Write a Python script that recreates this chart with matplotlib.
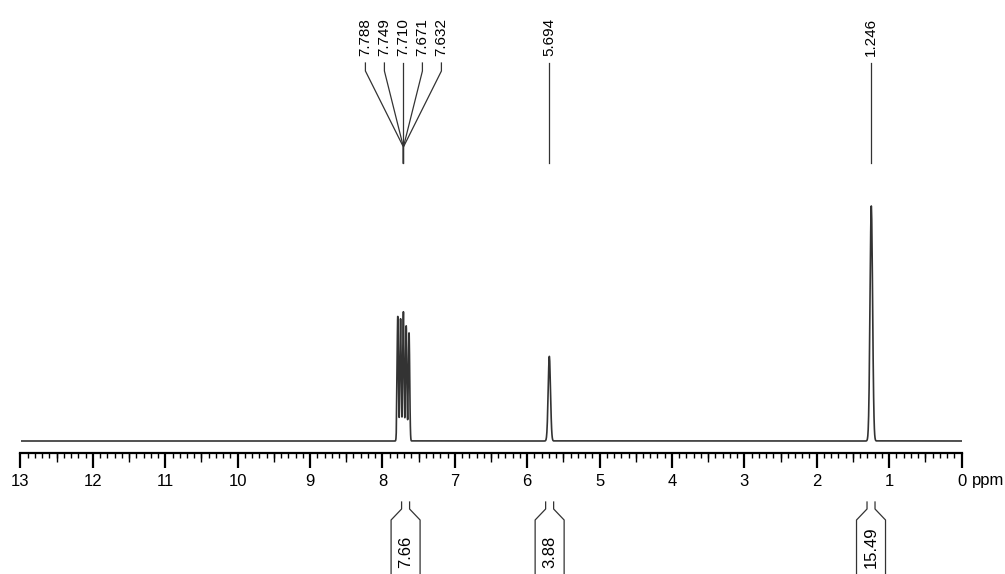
import numpy as np
import matplotlib.pyplot as plt
from matplotlib.ticker import MultipleLocator

plt.rcParams['font.family'] = ['Liberation Sans', 'DejaVu Sans']

# peak list (ppm, relative height, line width in ppm)
shift_ppm = np.array([7.788, 7.749, 7.710, 7.671, 7.632, 5.694, 1.246])
peak_height = np.array([0.53, 0.52, 0.55, 0.49, 0.46, 0.36, 1.00])
peak_sigma = np.array([0.009, 0.009, 0.009, 0.009, 0.009, 0.016, 0.0175])

# peak labels as they are grouped on top
label_groups = [[7.788, 7.749, 7.710, 7.671, 7.632], [5.694], [1.246]]

# integrals below the axis
integral_center = [7.68, 5.69, 1.25]
integral_value = ["7.66", "3.88", "15.49"]

axis_ticks = np.arange(0, 14)

# spectrum built from the peak list
ppm = np.linspace(0, 13, 26001)
intensity = np.zeros_like(ppm)
for c, h, s in zip(shift_ppm, peak_height, peak_sigma):
    intensity += h * np.exp(-(ppm - c) ** 2 / (2 * s ** 2))

W, H = 1005, 574
x0, x1 = 20.5, 961.5          # pixel positions of 13 and 0 ppm
spine_y, base_y, top_px = 453, 441, 235
PX = 13.0 / (x1 - x0)         # ppm per pixel

fig = plt.figure(figsize=(W / 100, H / 100), dpi=100)
ax = fig.add_axes([x0 / W, (H - spine_y) / H, (x1 - x0) / W, spine_y / H])
ax.plot(ppm, intensity, color="#333333", lw=1.2)
ax.set_xlim(13, 0)
ax.set_ylim(-(spine_y - base_y) / top_px, base_y / top_px)
for s in ["left", "top", "right"]:
    ax.spines[s].set_visible(False)
ax.spines["bottom"].set_linewidth(1.6)
ax.set_yticks([])
ax.set_xticks(axis_ticks)
ax.set_xticklabels([str(t) for t in axis_ticks])
ax.xaxis.set_minor_locator(MultipleLocator(0.1))
ax.tick_params(which="major", length=11, width=1.6, pad=4, labelsize=12)
ax.tick_params(which="minor", length=3.5, width=1.0)
ax.patch.set_alpha(0)

# half-ppm ticks are a bit longer
sec = ax.secondary_xaxis("bottom")
sec.set_xticks(np.arange(0.5, 13, 1))
sec.tick_params(length=6.5, width=1.0, labelbottom=False)
sec.spines["bottom"].set_visible(False)

# overlay: x in ppm, y in pixels from the top
ov = fig.add_axes([0, 0, 1, 1])
ov.set_xlim(13 + x0 * PX, 13 - (W - x0) * PX)
ov.set_ylim(H, 0)
ov.axis("off")
ov.patch.set_alpha(0)

ov.text(13 - (972 - x0) * PX, 481, "ppm", fontsize=12, ha="left", va="center")

lc = "#333333"
for group in label_groups:
    cx = np.mean(group)
    n = len(group)
    for i, val in enumerate(group):
        lx = cx - (i - (n - 1) / 2) * 19 * PX
        ov.text(lx, 56, f"{val:.3f}", rotation=90, ha="center", va="bottom",
                fontsize=11)
        ov.plot([lx, lx, cx, cx], [63, 71, 147, 163], color=lc, lw=0.9)

for c, v in zip(integral_center, integral_value):
    for sgn in (-1, 1):
        xs = [c + sgn * 4 * PX, c + sgn * 4 * PX, c + sgn * 14.5 * PX, c + sgn * 14.5 * PX]
        ov.plot(xs, [502, 509, 520, 580], color=lc, lw=0.9)
    ov.text(c, 568, v, rotation=90, ha="center", va="bottom", fontsize=12)

fig.savefig("out.png", dpi=100)
